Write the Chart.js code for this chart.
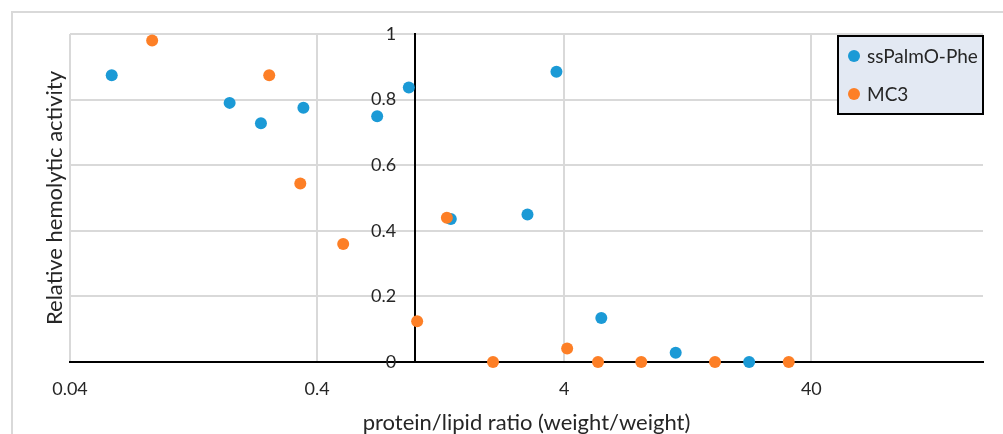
<!DOCTYPE html>
<html lang="en">
<head>
<meta charset="UTF-8">
<title>Relative hemolytic activity</title>
<script src="https://cdn.jsdelivr.net/npm/chart.js"></script>
<style>
    html, body { margin: 0; padding: 0; background: #fff; overflow: hidden; }
    .frame { position: absolute; left: 11px; top: 11px; width: 1100px; height: 500px; border-left: 2px solid #d9d9d9; border-top: 2px solid #d9d9d9; }
    #chart { position: absolute; left: 0; top: 0; }
</style>
</head>
<body>
<div class="frame"></div>
<canvas id="chart" width="1003" height="434"></canvas>
<script>
// values (x = protein/lipid ratio, y = relative activity)
const palmoX = [0.059, 0.177, 0.237, 0.352, 0.70, 0.94, 1.39, 2.84, 3.72, 5.65, 11.3, 22.4];
const palmoY = [0.874, 0.790, 0.728, 0.775, 0.749, 0.837, 0.436, 0.450, 0.885, 0.134, 0.028, 0];
const mc3X = [0.086, 0.256, 0.342, 0.51, 1.016, 1.34, 2.06, 4.11, 5.48, 8.2, 16.3, 32.4];
const mc3Y = [0.980, 0.874, 0.544, 0.360, 0.124, 0.440, 0, 0.041, 0, 0, 0, 0];

const xTickValues = [0.04, 0.4, 4, 40];
const yTickValues = [0, 0.2, 0.4, 0.6, 0.8, 1];
const xMin = 0.04, xMax = 198;
const yAxisCross = 1;      // the black vertical axis sits at x = 1
const yLabelAnchor = 0.835; // labels end a little left of that line

const FONT = 'Lato, "Open Sans", sans-serif';
const TEXT = '#262626';
const GRID = '#d9d9d9';

const toPoints = (xs, ys) => xs.map((x, i) => ({ x: x, y: ys[i] }));

// boxed legend in the top right corner, like the original
const boxLegend = {
    id: 'boxLegend',
    afterDraw(chart) {
        const ctx = chart.ctx;
        const area = chart.chartArea;
        const w = 145, h = 78;
        const left = area.right - w, top = area.top + 2;
        ctx.save();
        ctx.fillStyle = '#e3e9f3';
        ctx.fillRect(left, top, w, h);
        ctx.strokeStyle = '#000';
        ctx.lineWidth = 2;
        ctx.strokeRect(left, top, w, h);
        ctx.font = '19px ' + FONT;
        ctx.textBaseline = 'middle';
        chart.data.datasets.forEach((ds, i) => {
            const cy = top + 20 + i * 38;
            ctx.fillStyle = ds.backgroundColor;
            ctx.beginPath();
            ctx.arc(left + 16, cy, 6, 0, Math.PI * 2);
            ctx.fill();
            ctx.fillStyle = TEXT;
            ctx.fillText(ds.label, left + 29, cy + 1);
        });
        ctx.restore();
    }
};

new Chart(document.getElementById('chart'), {
    type: 'scatter',
    data: {
        datasets: [
            { label: 'ssPalmO-Phe', data: toPoints(palmoX, palmoY), backgroundColor: '#1b9ad6', borderWidth: 0, pointRadius: 6, pointHoverRadius: 6, order: 2, clip: false },
            { label: 'MC3', data: toPoints(mc3X, mc3Y), backgroundColor: '#fd7f26', borderWidth: 0, pointRadius: 6, pointHoverRadius: 6, order: 1, clip: false }
        ]
    },
    options: {
        responsive: false,
        animation: false,
        events: [],
        layout: { padding: { top: 34, right: 20, left: 0, bottom: 0 } },
        plugins: { legend: { display: false }, tooltip: { enabled: false } },
        scales: {
            x: {
                type: 'logarithmic',
                position: 'bottom',
                min: xMin, max: xMax,
                afterBuildTicks: s => { s.ticks = xTickValues.map(v => ({ value: v })); },
                afterFit: s => { s.height = 72; },
                grid: { color: GRID, lineWidth: 2, drawTicks: false, z: -1 },
                border: { color: '#000', width: 2 },
                ticks: { color: TEXT, font: { family: FONT, size: 18 }, padding: 16, maxRotation: 0, autoSkip: false, callback: v => String(v) },
                title: { display: true, text: 'protein/lipid ratio (weight/weight)', color: TEXT, font: { family: FONT, size: 22, lineHeight: 1 }, padding: { top: 0, bottom: 0 } }
            },
            y: {
                position: { x: yLabelAnchor },
                min: 0, max: 1,
                afterBuildTicks: s => { s.ticks = yTickValues.map(v => ({ value: v })); },
                grid: { color: GRID, lineWidth: 2, drawTicks: false, z: -1 },
                border: { display: false },
                ticks: { color: TEXT, font: { family: FONT, size: 18 }, callback: v => String(v) }
            },
            yLine: {
                position: { x: yAxisCross },
                min: 0, max: 1,
                grid: { display: false },
                border: { color: '#000', width: 2 },
                ticks: { display: false }
            },
            yTitle: {
                position: 'left',
                min: 0, max: 1,
                afterFit: s => { s.width = 70; },
                grid: { display: false },
                border: { display: false },
                ticks: { display: false },
                title: { display: true, text: 'Relative hemolytic activity', color: TEXT, font: { family: FONT, size: 22, lineHeight: 1 }, padding: { top: 44, bottom: 0 } }
            }
        }
    },
    plugins: [boxLegend]
});
</script>
</body>
</html>
